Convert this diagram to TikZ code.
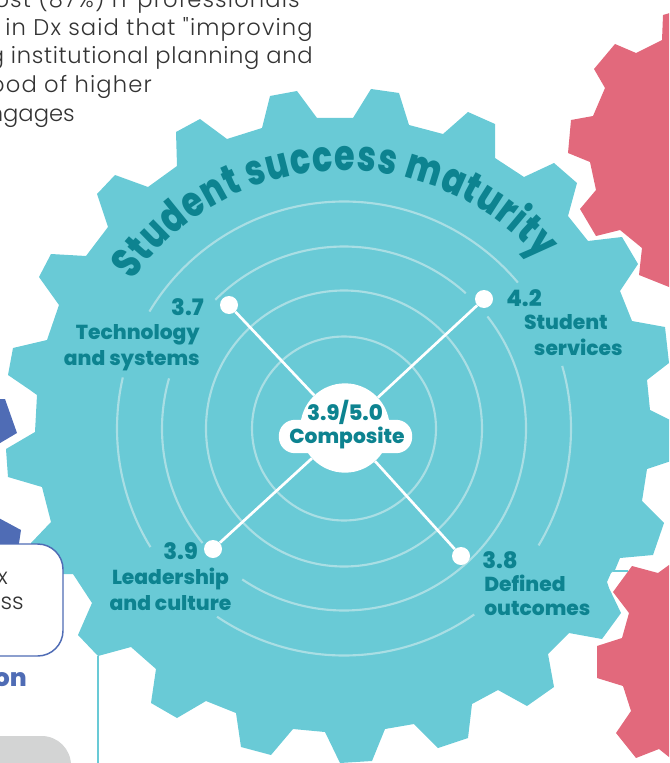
\documentclass[tikz,border=0pt]{standalone}
\usepackage{fontspec}
\usetikzlibrary{decorations.text}
\newfontfamily\hvy{Poppins}[UprightFont=* ExtraBold]
\newfontfamily\ttl{Poppins}[UprightFont=* ExtraBold,FakeStretch=0.78]
\newfontfamily\lite{Poppins Light}[LetterSpace=5]
\newfontfamily\litea{Poppins Light}[LetterSpace=3]
\newfontfamily\liteb{Poppins Light}
\definecolor{gearteal}{HTML}{69CAD6}
\definecolor{ringc}{HTML}{A9DEE4}
\definecolor{darkteal}{HTML}{0D8390}
\definecolor{pinkc}{HTML}{E2697C}
\definecolor{bluec}{HTML}{4F6CB5}
\definecolor{bodyc}{HTML}{333333}
\definecolor{grayc}{HTML}{D3D4D4}
\tikzset{
 ringline/.style={draw=ringc,line width=1.6pt},
 spoke/.style={draw=white,line width=2pt},
 dotn/.style={circle,fill=white,inner sep=0pt,minimum size=13.5pt},
 lab/.style={text=darkteal,inner sep=0pt,font=\hvy\fontsize{15.2}{15.2}\selectfont},
 num/.style={text=darkteal,inner sep=0pt,font=\hvy\fontsize{17}{17}\selectfont},
 bodyt/.style={text=bodyc,inner sep=0pt,font=\lite\fontsize{17}{17}\selectfont},
 bodya/.style={bodyt,font=\litea\fontsize{17}{17}\selectfont},
 bodyb/.style={bodyt,font=\liteb\fontsize{17}{17}\selectfont},
}
\begin{document}
\begin{tikzpicture}[x=0.75pt,y=-0.75pt]
\useasboundingbox (0,0) rectangle (669,763);
\clip (0,0) rectangle (669,763);
% body text
\node[bodyt,anchor=base east] (l1) at (300,8) {ost (87\%) IT professionals};
\node[bodyt,anchor=base east] (l2) at (313,36) {in Dx said that "improving};
\node[bodya,anchor=base east] (l3) at (313,64) {g institutional planning and};
\node[bodyt,anchor=base east] (l4) at (152,93) {ood of higher};
\node[bodyb,anchor=base east] (l5) at (75,122) {ngages};
% pink gears
\fill[pinkc] (680,10)--(663,15)--(662,40)--(636,53)--(615,44)--(594,69)--(605,88)--(593,116)--(571,120)--(568,153)--(590,162)--(596,190)--(580,209)--(596,236)--(620,230)--(642,248)--(639,275)--(669,287)--(680,290)--cycle;
\fill[pinkc] (680,558)--(669,565)--(658,573)--(632,566)--(613,592)--(629,613)--(622,638)--(597,646)--(597,678)--(623,686)--(631,711)--(616,733)--(636,758)--(659,749)--(669,757)--(680,765)--cycle;
% blue shapes
\fill[bluec] (-5,399)--(5,399)--(17,433)--(-5,446)--cycle;
\fill[bluec] (-5,516)--(21,530)--(18,550)--(-5,550)--cycle;
% gear
\fill[gearteal] (340,118)--(317,118)--(297,91)--(270,96)--(262,128)--(227,139)--(200,119)--(176,132)--(177,166)--(148,187)--(115,175)--(97,194)--(108,227)--(86,256)--(51,254)--(39,277)--(59,305)--(47,340)--(13,348)--(8,375)--(30,390)--(37,395)--(35,432)--(6,449)--(8,477)--(42,487)--(51,522)--(31,543)--(40,574)--(73,574)--(92,603)--(78,635)--(98,656)--(131,647)--(156,669)--(151,703)--(177,718)--(206,701)--(236,713)--(241,747)--(271,755)--(293,729)--(325,732)--(340,763)--(372,761)--(385,729)--(414,724)--(438,748)--(468,738)--(472,704)--(498,690)--(527,706)--(554,687)--(548,654)--(569,633)--(602,639)--(621,613)--(609,588)--(607,582)--(611,573)--(615,570)--(620,558)--(653,555)--(664,523)--(642,501)--(647,469)--(680,458)--(680,425)--(650,410)--(647,380)--(669,363)--(665,327)--(632,321)--(620,291)--(638,264)--(622,237)--(588,241)--(568,216)--(577,183)--(554,163)--(524,177)--(495,158)--(495,124)--(468,112)--(443,134)--(409,125)--(399,93)--(371,89)--(353,118)--cycle;
\draw[gearteal,line width=1.5pt] (98,656)--(98,770);
\draw[gearteal,line width=1.5pt] (613,571)--(628,571);
% rings
\coordinate (c) at (344,428.5);
\foreach \r/\a/\b in {227/211/320,227/-16/31,227/55/124,227/148.5/193,182/225/312,182/-38/124,182/141/196,138/0/360,92/0/360}{
 \draw[ringline] (c) ++(\a:\r) arc[start angle=\a,end angle=\b,radius=\r];
}
% title
\path[postaction={decorate},decoration={text along path,text align={fit to path},
 text={|\ttl\fontsize{32}{32}\selectfont\color{darkteal}|Student success maturity}}]
 (c) ++(215:258) arc[start angle=215,end angle=319.5,radius=258];
% center
\node[circle,fill=white,inner sep=0pt,minimum size=67pt] (hub) at (345,428) {};
\node[rounded corners=12pt,fill=white,inner sep=0pt,minimum width=100pt,minimum height=25pt] (pill) at (345.5,436.5) {};
\node[dotn] (d1) at (229,305) {};
\node[dotn] (d2) at (484,299) {};
\node[dotn] (d3) at (213,549) {};
\node[dotn] (d4) at (461,556) {};
\draw[spoke] (d1)--(hub); \draw[spoke] (d2)--(hub); \draw[spoke] (d3)--(hub); \draw[spoke] (d4)--(hub);
\node[num,font=\hvy\fontsize{16}{16}\selectfont] (ct) at (345,412) {3.9/5.0};
\node[lab] (cc) at (347,438) {Composite};
% labels
\node[num,anchor=east] (n1) at (204,307) {3.7};
\node[lab,anchor=east] (t1a) at (200,335) {Technology};
\node[lab,anchor=east] (t1b) at (200,361) {and systems};
\node[num,anchor=west] (n2) at (506,298) {4.2};
\node[lab,anchor=east] (t2a) at (608,322) {Student};
\node[lab,anchor=east] (t2b) at (623,347) {services};
\node[num,anchor=east] (n3) at (198,551) {3.9};
\node[lab] (t3a) at (170.5,579) {Leadership};
\node[lab] (t3b) at (170.5,603) {and culture};
\node[num,anchor=west] (n4) at (482,560) {3.8};
\node[lab,anchor=west] (t4a) at (484,583) {Defined};
\node[lab,anchor=west] (t4b) at (484,609) {outcomes};
% left panel
\draw[bluec,fill=white,line width=1.1pt,rounded corners=19pt] (-40,544)--(63,544)--(63,656)--(-40,656)--cycle;
\node[bodyb,anchor=base east] (bx1) at (8,584) {x};
\node[bodyb,anchor=base east] (bx2) at (24,609) {ess};
\node[text=bluec,inner sep=0pt,anchor=base east,font=\hvy\fontsize{18.5}{18.5}\selectfont] (on) at (27,686) {on};
\fill[grayc,rounded corners=22pt] (-40,736)--(71,736)--(71,800)--(-40,800)--cycle;
\end{tikzpicture}
\end{document}
